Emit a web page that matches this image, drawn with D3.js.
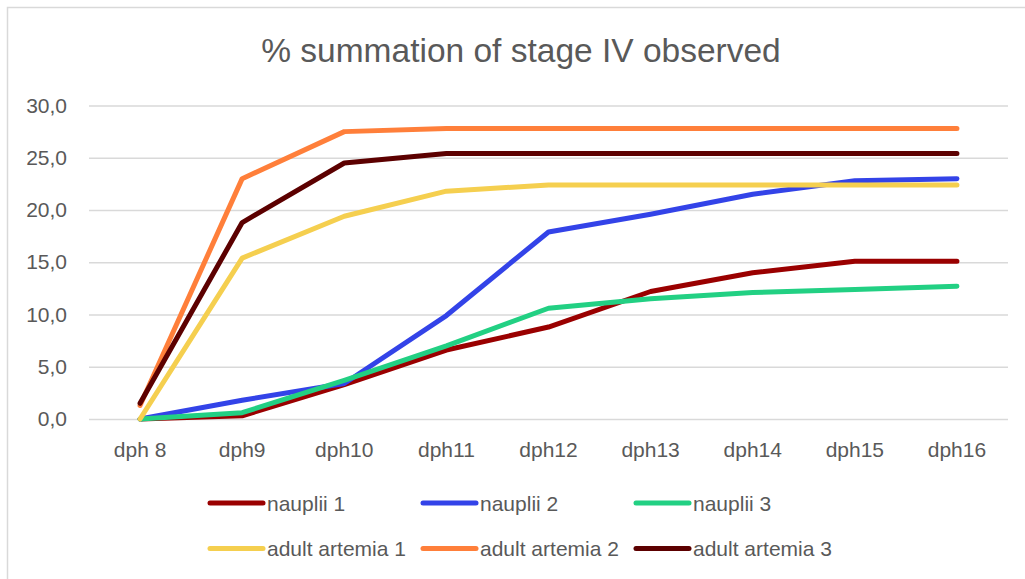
<!DOCTYPE html>
<html>
<head>
<meta charset="utf-8">
<script src="https://cdn.jsdelivr.net/npm/d3@7"></script>
<style>
  body { margin: 0; background: #fff; }
  text { font-family: "Liberation Sans", "DejaVu Sans", sans-serif; fill: #595959; }
</style>
</head>
<body>
<svg width="1025" height="579"></svg>
<script>
var days = ['dph 8','dph9','dph10','dph11','dph12','dph13','dph14','dph15','dph16']
var yTicks = [0,5,10,15,20,25,30]

var nauplii1 = [0,0.3,3.3,6.6,8.8,12.2,14.0,15.1,15.1]
var nauplii2 = [0,1.8,3.4,9.9,17.9,19.6,21.5,22.8,23.0]
var nauplii3 = [0,0.6,3.7,7.0,10.6,11.5,12.1,12.4,12.7]
var adult1 = [0,15.4,19.4,21.8,22.4,22.4,22.4,22.4,22.4]
var adult2 = [1.3,23.0,27.5,27.8,27.8,27.8,27.8,27.8,27.8]
var adult3 = [1.5,18.8,24.5,25.4,25.4,25.4,25.4,25.4,25.4]

var seriesNames = ['nauplii 1','nauplii 2','nauplii 3','adult artemia 1','adult artemia 2','adult artemia 3']
var seriesValues = [nauplii1,nauplii2,nauplii3,adult1,adult2,adult3]
var colors = ['#9a0000','#3343e8','#22d083','#f5cf4f','#ff7f3a','#5c0000']

var svg = d3.select('svg')

// bordo del grafico
svg.append('path')
   .attr('d','M7.5,579 V7.5 H1025')
   .attr('fill','none')
   .attr('stroke','#d9d9d9')
   .attr('stroke-width',1.5)

svg.append('text')
   .attr('x',521)
   .attr('y',62)
   .attr('text-anchor','middle')
   .style('font-size','33.5px')
   .text('% summation of stage IV observed')

var x = d3.scaleBand().domain(days).range([89,1008])
var y = d3.scaleLinear().domain([0,30]).range([419,105.5])

var yAxis = svg.append('g')
   .attr('transform','translate(89,0)')
   .call(d3.axisLeft(y).tickValues(yTicks).tickSize(-919).tickPadding(22)
         .tickFormat(function(d){ return d3.format('.1f')(d).replace('.',',') }))
yAxis.select('.domain').remove()
yAxis.selectAll('line').attr('stroke','#d9d9d9').attr('stroke-width',1.5)
yAxis.selectAll('text').style('font-size','21px').style('font-family','Liberation Sans, sans-serif').attr('fill','#595959')

var xAxis = svg.append('g')
   .attr('transform','translate(0,419)')
   .call(d3.axisBottom(x).tickSize(0).tickPadding(23))
xAxis.select('.domain').remove()
xAxis.selectAll('text').style('font-size','21px').style('font-family','Liberation Sans, sans-serif').attr('fill','#595959')

var line = d3.line()
   .x(function(d,i){ return x(days[i]) + x.bandwidth()/2 })
   .y(function(d){ return y(d) })

svg.selectAll('path.serie')
   .data(seriesValues)
   .enter()
   .append('path')
   .attr('class','serie')
   .attr('d',line)
   .attr('fill','none')
   .attr('stroke',function(d,i){ return colors[i] })
   .attr('stroke-width',5)
   .attr('stroke-linecap','round')
   .attr('stroke-linejoin','round')

// legenda
var leg = svg.selectAll('g.leg')
   .data(seriesNames)
   .enter()
   .append('g')
   .attr('class','leg')
   .attr('transform',function(d,i){ return 'translate(' + (210 + (i%3)*213) + ',' + (503 + Math.floor(i/3)*45.5) + ')' })

leg.append('line')
   .attr('x1',0).attr('x2',53).attr('y1',0).attr('y2',0)
   .attr('stroke',function(d,i){ return colors[i] })
   .attr('stroke-width',5)
   .attr('stroke-linecap','round')

leg.append('text')
   .attr('x',57)
   .attr('y',7.5)
   .style('font-size','21px')
   .text(function(d){ return d })
</script>
</body>
</html>
